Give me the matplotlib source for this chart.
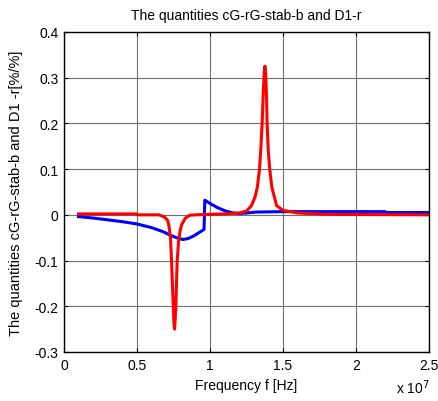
import numpy as np
import matplotlib
matplotlib.use("Agg")
import matplotlib.pyplot as plt

plt.rcParams['font.family'] = ['Liberation Sans', 'DejaVu Sans']

# blue curve: cG-rG-stab-b (frequency in Hz, value in %/%)
blue_f = [1.0e6, 2.0e6, 3.0e6, 4.0e6, 5.0e6, 6.0e6, 6.8e6, 7.3e6, 7.8e6, 8.15e6,
          8.5e6, 8.9e6, 9.3e6, 9.6e6, 9.65e6, 10.0e6, 10.5e6, 11.1e6, 11.6e6,
          12.0e6, 12.5e6, 13.2e6, 15.0e6, 18.0e6, 22.0e6, 22.1e6, 25.0e6]
blue_v = [-0.004, -0.007, -0.011, -0.015, -0.020, -0.028, -0.037, -0.045, -0.051,
          -0.054, -0.052, -0.046, -0.038, -0.032, 0.032, 0.025, 0.016, 0.008, 0.004,
          0.003, 0.004, 0.006, 0.007, 0.007, 0.007, 0.005, 0.005]

# red curve: D1-r
red_f = [1.0e6, 3.0e6, 4.95e6, 5.05e6, 6.5e6, 6.9e6, 7.1e6, 7.2e6, 7.3e6, 7.37e6,
         7.43e6, 7.49e6, 7.54e6, 7.58e6, 7.62e6, 7.67e6, 7.72e6, 7.76e6, 7.85e6,
         7.95e6, 8.06e6, 8.3e6, 8.6e6, 9.0e6, 10.0e6, 11.0e6, 12.0e6, 12.5e6,
         12.85e6, 13.1e6, 13.25e6, 13.4e6, 13.5e6, 13.58e6, 13.66e6, 13.72e6,
         13.77e6, 13.82e6, 13.88e6, 13.92e6, 14.0e6, 14.1e6, 14.25e6, 14.57e6,
         15.0e6, 16.0e6, 18.0e6, 25.0e6]
red_v = [0.002, 0.002, 0.002, 0.0, 0.0, -0.005, -0.012, -0.025, -0.05, -0.10,
         -0.15, -0.20, -0.24, -0.25, -0.23, -0.20, -0.14, -0.10, -0.06,
         -0.037, -0.022, -0.008, -0.001, 0.0, 0.001, 0.002, 0.004, 0.008,
         0.02, 0.04, 0.06, 0.10, 0.15, 0.20, 0.27, 0.31,
         0.325, 0.31, 0.26, 0.20, 0.14, 0.10, 0.06, 0.02,
         0.01, 0.004, 0.001, 0.0]

fig = plt.figure(figsize=(4.38, 4.02), dpi=100)
ax = fig.add_axes([0.146, 0.122, 0.833, 0.796])

ax.plot(blue_f, blue_v, color='#0000ff', lw=2.2)
ax.plot(red_f, red_v, color='#ff0000', lw=2.2)

ax.set_xlim(0, 2.5e7)
ax.set_ylim(-0.3, 0.4)
ax.set_xticks(np.arange(0, 2.51e7, 0.5e7))
ax.set_xticklabels(['0', '0.5', '1', '1.5', '2', '2.5'])
ax.set_yticks(np.arange(-0.3, 0.41, 0.1))
ax.set_yticklabels(['-0.3', '-0.2', '-0.1', '0', '0.1', '0.2', '0.3', '0.4'])
ax.grid(True, color='#707070', lw=0.8)
ax.tick_params(direction='in', labelsize=10, top=True, right=True, length=3, pad=4)
for s in ax.spines.values():
    s.set_linewidth(1.0)

ax.set_title('The quantities cG-rG-stab-b and D1-r', fontsize=10, pad=9)
ax.set_xlabel('Frequency f [Hz]', fontsize=10, labelpad=5)
ax.set_ylabel('The quantities cG-rG-stab-b and D1 -r[%/%]', fontsize=10.5, labelpad=8)
fig.text(0.905, 0.02, r'x 10$^{7}$', fontsize=10)

fig.savefig('out.png', dpi=100)
